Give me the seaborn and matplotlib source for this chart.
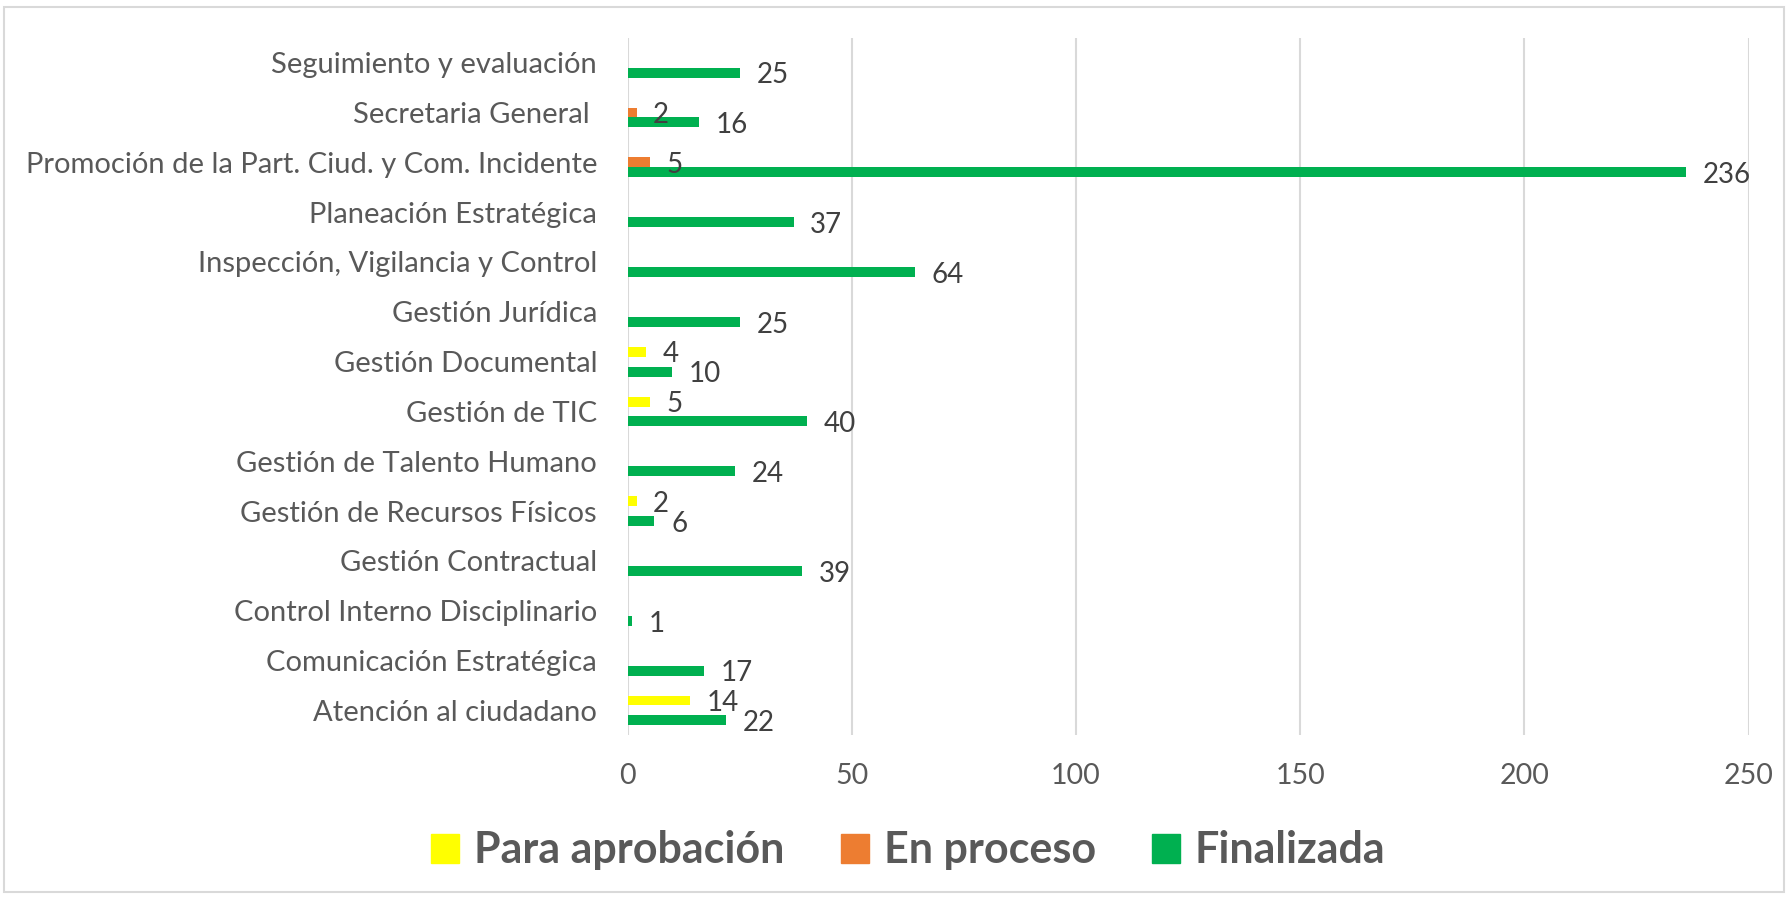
import pandas as pd
import seaborn as sns
import matplotlib.pyplot as plt
from matplotlib.patches import Rectangle

# categorias de arriba hacia abajo
categorias = [
    "Seguimiento y evaluación",
    "Secretaria General ",
    "Promoción de la Part. Ciud. y Com. Incidente",
    "Planeación Estratégica",
    "Inspección, Vigilancia y Control",
    "Gestión Jurídica",
    "Gestión Documental",
    "Gestión de TIC",
    "Gestión de Talento Humano",
    "Gestión de Recursos Físicos",
    "Gestión Contractual",
    "Control Interno Disciplinario",
    "Comunicación Estratégica",
    "Atención al ciudadano",
]
para_aprobacion = [0, 0, 0, 0, 0, 0, 4, 5, 0, 2, 0, 0, 0, 14]
en_proceso = [0, 2, 5, 0, 0, 0, 0, 0, 0, 0, 0, 0, 0, 0]
finalizada = [25, 16, 236, 37, 64, 25, 10, 40, 24, 6, 39, 1, 17, 22]
series = ["Para aprobación", "En proceso", "Finalizada"]
colores = ["#FFFF00", "#ED7D31", "#00B050"]

rows = []
for serie, valores in zip(series, [para_aprobacion, en_proceso, finalizada]):
    for cat, v in zip(categorias, valores):
        rows.append({"categoria": cat, "serie": serie, "valor": v})
df = pd.DataFrame(rows)

sns.set_style("white")
plt.rcParams["font.family"] = ["Lato", "DejaVu Sans"]

fig = plt.figure(figsize=(17.88, 8.99), dpi=100)
ax = fig.add_axes([0.351, 0.182, 0.627, 0.776])

sns.barplot(data=df, y="categoria", x="valor", hue="serie", order=categorias,
            hue_order=series, palette=colores, saturation=1, width=0.6, gap=0,
            linewidth=0, orient="h", ax=ax, legend=False)

# etiquetas solo para valores distintos de cero
for cont in ax.containers:
    labels = [f"{b.get_width():.0f}" if b.get_width() > 0 else "" for b in cont]
    textos = ax.bar_label(cont, labels=labels, padding=12, fontsize=20, color="#404040")
    for t in textos:
        t.xyann = (12, -2)

ax.set_xlim(0, 250)
ax.set_xticks([0, 50, 100, 150, 200, 250])
ax.set_ylim(len(categorias) - 0.5, -0.5)
ax.grid(axis="x", color="#d9d9d9", linewidth=1.5)
ax.set_axisbelow(True)
for s in ax.spines.values():
    s.set_visible(False)
ax.set_xlabel("")
ax.set_ylabel("")
ax.tick_params(axis="y", length=0, pad=22, labelsize=21, labelcolor="#595959")
ax.tick_params(axis="x", length=0, pad=20, labelsize=20.5, labelcolor="#595959")

handles = [Rectangle((0, 0), 1, 1, color=c) for c in colores]
leg = fig.legend(handles, series, loc="center", bbox_to_anchor=(0.508, 0.054),
                 ncol=3, frameon=False, handlelength=0.65, handleheight=0.65,
                 columnspacing=1.3, handletextpad=0.35,
                 prop={"size": 31, "weight": "bold"})
for t in leg.get_texts():
    t.set_color("#595959")

# borde del area del grafico
fig.patches.append(Rectangle((0.002, 0.008), 0.996, 0.984, transform=fig.transFigure,
                             fill=False, edgecolor="#d9d9d9", linewidth=1.5))

fig.savefig("out.png", dpi=100)
